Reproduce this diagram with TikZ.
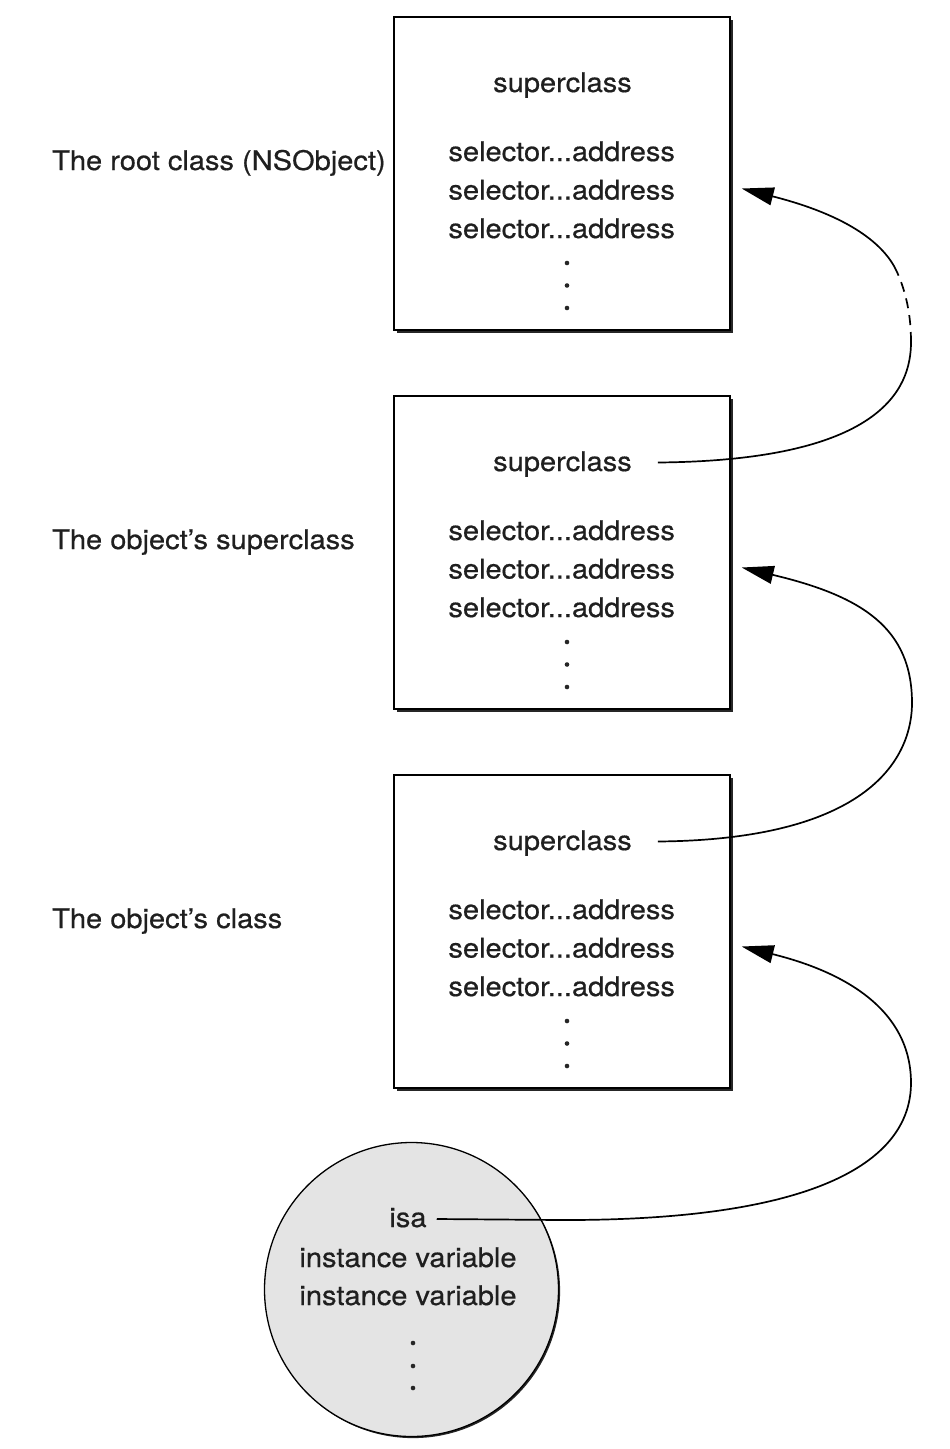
\documentclass[tikz,border=0pt]{standalone}
\usepackage{fontspec}
\setmainfont{TeX Gyre Heros}[FakeStretch=1.075,FakeBold=0.6]
\usetikzlibrary{arrows.meta,shadows,calc}
\definecolor{objgray}{HTML}{E4E4E4}
\begin{document}
\begin{tikzpicture}[x=1pt,y=-1pt,
  txt/.style={font=\fontsize{27}{33}\selectfont, inner sep=0pt, anchor=base, text=black!88},
  lbl/.style={txt, anchor=base west},
  classbox/.style={draw, line width=1.4pt, fill=white, minimum width=336pt, minimum height=313pt, inner sep=0pt,
    drop shadow={shadow xshift=2.6pt, shadow yshift=-2.6pt, opacity=1, fill=black!85}},
  objcircle/.style={circle, draw, line width=1.3pt, fill=objgray, minimum size=294pt, inner sep=0pt,
    drop shadow={shadow xshift=1.6pt, shadow yshift=-1.6pt, opacity=1, fill=black!85}},
  dotmark/.style={circle, fill=black!85, inner sep=0pt, minimum size=4.6pt},
  conn/.style={line width=1.7pt},
  arr/.style={-{Triangle[length=32pt,width=18pt]}},
  gapdash/.style={dash pattern=on 10pt off 7pt}]
\useasboundingbox (0,0) rectangle (950,1449);

% class boxes
\foreach \i in {1,2,3}{
  \pgfmathsetmacro{\dy}{(\i-1)*379}
  \node[classbox] (box\i) at (562,173.5+\dy) {};
  \node[txt] (sup\i) at (562.5,92+\dy) {superclass};
  \node[txt] (sel\i1) at (561.7,161+\dy) {selector...address};
  \node[txt] (sel\i2) at (561.7,199.5+\dy) {selector...address};
  \node[txt] (sel\i3) at (561.7,238+\dy) {selector...address};
  \node[dotmark] (da\i) at (567,263+\dy) {};
  \node[dotmark] (db\i) at (567,285.5+\dy) {};
  \node[dotmark] (dc\i) at (567,308+\dy) {};
}

% labels
\node[lbl] (lroot) at (52,170) {The root class (NSObject)};
\node[lbl] (lsuper) at (52,549) {The object’s superclass};
\node[lbl] (lclass) at (52,928) {The object’s class};

% object
\node[objcircle] (obj) at (411.5,1289.5) {};
\node[txt] (isa) at (408,1227) {isa};
\node[txt] (iv1) at (408,1267) {instance variable};
\node[txt] (iv2) at (408,1305) {instance variable};
\node[dotmark] (od1) at (413,1343) {};
\node[dotmark] (od2) at (413,1366) {};
\node[dotmark] (od3) at (413,1388) {};

% connector points
\coordinate (s2) at ($(sup2.base east)+(26,-8.5)$);
\coordinate (s3) at ($(sup3.base east)+(26,-8.5)$);
\coordinate (s4) at ($(isa.base east)+(10,-8)$);
\coordinate (t1) at ($(box1.east |- sel12.base)+(11,-11)$);
\coordinate (t2) at ($(box2.east |- sel22.base)+(11,-11)$);
\coordinate (t3) at ($(box3.east |- sel32.base)+(11,-11)$);
\coordinate (q1) at (911,342);
\coordinate (q2) at (897,272);
\coordinate (r2) at (912,703);
\coordinate (r3) at (911,1083);
\coordinate (f3) at (560,1220);

% superclass of the object's superclass -> root class
\draw[conn] (s2) .. controls +(222,-2) and (911,390) .. (q1);
\draw[conn, gapdash] (q1) .. controls (911,315) and (906,292) .. (q2);
\draw[conn, arr] (q2) .. controls (885,245) and (850,216) .. (t1);

% superclass of the object's class -> superclass
\draw[conn, arr] (s3) .. controls +(222,-2) and (912,750) .. (r2)
  .. controls (912,628) and (862,596) .. (t2);

% isa -> class
\draw[conn, arr] (s4) -- (f3) .. controls (860,1221) and (911,1140) .. (r3)
  .. controls (911,1010) and (845,972) .. (t3);
\end{tikzpicture}
\end{document}
